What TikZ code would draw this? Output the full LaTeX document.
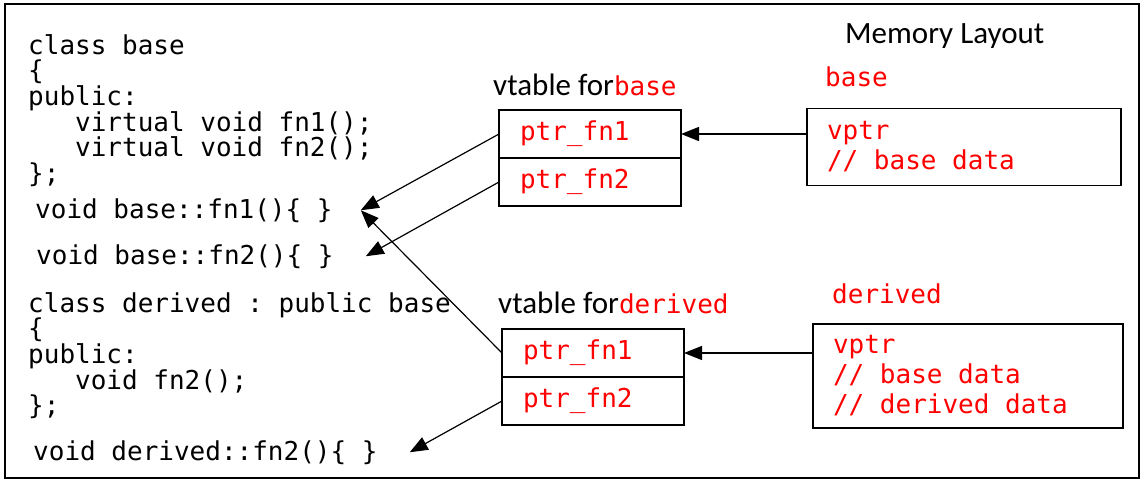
\documentclass[tikz,border=0pt]{standalone}
\usepackage{fontspec}
\setmainfont{Carlito}
\setmonofont{DejaVu Sans Mono}
\usetikzlibrary{positioning}
\usepgflibrary{arrows.meta}

\newcommand{\codesize}{\fontsize{26}{25.7}\selectfont}
\newcommand{\boxsize}{\fontsize{26}{30}\selectfont}

\begin{document}
\begin{tikzpicture}
    [x=1pt, y=-1pt,
    code/.style={font=\ttfamily\codesize, inner sep=0pt, align=left},
    heading/.style={font=\fontsize{31}{31}\selectfont, inner sep=0pt},
    ptrcell/.style={draw, line width=1.5pt, outer sep=0pt, minimum height=48pt,
        text width=140pt, inner xsep=21pt, align=left, text=red, font=\ttfamily\codesize},
    objbox/.style={draw, line width=1.5pt, inner xsep=20pt, align=left, text=red,
        font=\ttfamily\boxsize, execute at begin node={\spaceskip=0pt\xspaceskip=0pt}},
    ptrarrow/.style={line width=1.2pt, -{Triangle[length=18pt, width=14pt]}}]
        \useasboundingbox (0,0) rectangle (1146,482);
        \draw[line width=2.5pt] (5,4) rectangle (1139,478);

        %% code of the two classes
        \node[code, anchor=north west] (baseclass) at (28,34) {class base\\\{\\public:\\\phantom{xxx}virtual void fn1();\\\phantom{xxx}virtual void fn2();\\\};};
        \node[code, anchor=base west] (basefn1) at (35,218) {void base::fn1()\{ \}};
        \node[code, anchor=base west] (basefn2) at (36,264) {void base::fn2()\{ \}};
        \node[code, anchor=north west] (derivedclass) at (28,292) {class derived : public base\\\{\\public:\\\phantom{xxx}void fn2();\\\};};
        \node[code, anchor=base west] (derivedfn2) at (33,460) {void derived::fn2()\{ \}};

        %% vtables
        \node[heading, anchor=base west] (bvtable) at (493,95) {vtable for\textcolor{red}{\ttfamily\codesize base}};
        \node[ptrcell] (bptr1) at (590,134) {ptr\_fn1};
        \node[ptrcell, below=0pt of bptr1] (bptr2) {ptr\_fn2};
        \node[heading, anchor=base west] (dvtable) at (498,313) {vtable for\textcolor{red}{\ttfamily\codesize derived}};
        \node[ptrcell] (dptr1) at (593,353) {ptr\_fn1};
        \node[ptrcell, below=0pt of dptr1] (dptr2) {ptr\_fn2};

        %% memory layout
        \node[heading, anchor=base west] (memlayout) at (845,43) {Memory Layout};
        \node[code, text=red, anchor=base west] (bname) at (825,86) {base};
        \node[objbox, text width=274pt, minimum height=77pt] (bobj) at (964,147) {vptr\\// base data};
        \node[code, text=red, anchor=base west] (dname) at (832,303) {derived};
        \node[objbox, text width=270pt, minimum height=104pt] (dobj) at (968,376) {vptr\\// base data\\// derived data};

        \coordinate (fn1in) at ([xshift=28pt]basefn1.east);
        \coordinate (fn2in) at ([xshift=32pt]basefn2.east);
        \coordinate (dfn2in) at ([xshift=32pt]derivedfn2.east);

        \draw[ptrarrow] (bobj.west |- bptr1) -- (bptr1.east);
        \draw[ptrarrow] (dobj.west |- dptr1) -- (dptr1.east);
        \draw[ptrarrow] (bptr1.west) -- (fn1in);
        \draw[ptrarrow] (bptr2.west) -- (fn2in);
        \draw[ptrarrow] (dptr1.west) -- (fn1in);
        \draw[ptrarrow] (dptr2.west) -- (dfn2in);
    \end{tikzpicture}
\end{document}
